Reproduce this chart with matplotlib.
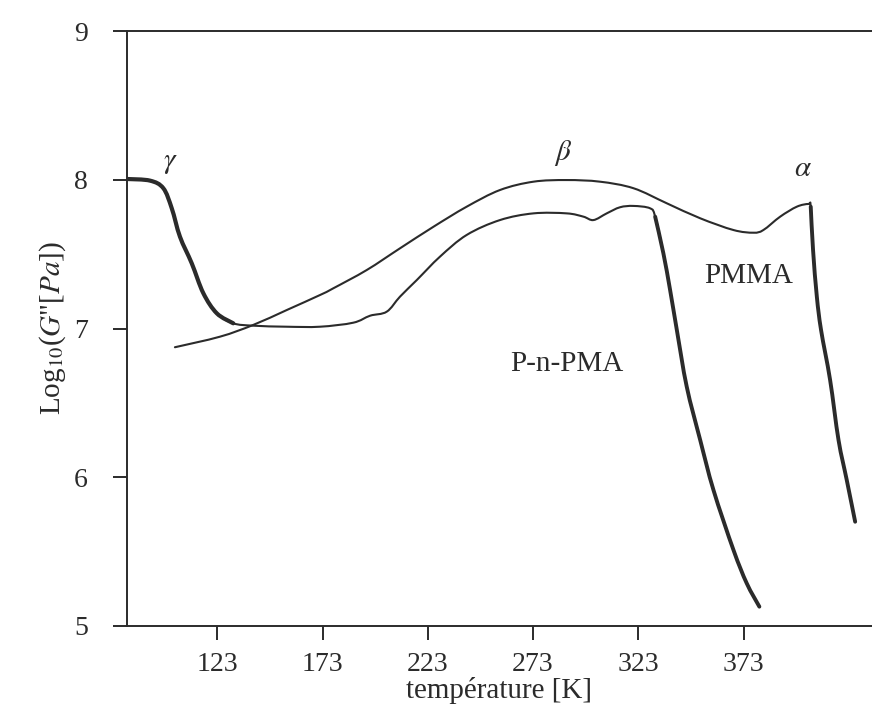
import numpy as np
import matplotlib
matplotlib.use("Agg")
from matplotlib import pyplot as plt
from matplotlib.path import Path
from matplotlib.patches import PathPatch

plt.rcParams['font.family'] = ['Liberation Serif', 'DejaVu Serif']
plt.rcParams['mathtext.fontset'] = 'stix'

# P-n-PMA : temperature [K], log10 G''
T_pnpma = [80.3, 91.1, 97.4, 101.4, 105.3, 110.9, 116.4, 122.8, 130.6, 140.1, 156.0,
           171.8, 187.6, 195.6, 203.5, 209.8, 217.8, 228.8, 241.5, 257.3, 273.2, 289.0,
           296.9, 301.7, 308.0, 314.3, 320.7, 328.6, 331.0, 334.9, 338.1, 341.3, 346.0,
           352.4, 358.7, 368.2, 374.5, 380.5]
G_pnpma = [8.005, 7.994, 7.943, 7.808, 7.617, 7.438, 7.237, 7.102, 7.035, 7.019, 7.012,
           7.012, 7.039, 7.086, 7.113, 7.214, 7.326, 7.483, 7.629, 7.729, 7.774, 7.774,
           7.752, 7.729, 7.774, 7.815, 7.824, 7.808, 7.752, 7.506, 7.259, 6.990, 6.609,
           6.250, 5.914, 5.511, 5.287, 5.130]

# PMMA
T_pmma = [102.9, 124.3, 140.1, 156.0, 171.8, 178.1, 194.0, 209.8, 225.7, 241.5, 257.3,
          273.2, 289.0, 304.8, 320.7, 336.5, 352.4, 368.2, 377.7, 382.4, 390.4, 398.3,
          403.8, 404.9, 406.0, 407.8, 409.8, 414.1, 418.1, 422.0, 426.0]
G_pmma = [6.874, 6.945, 7.024, 7.124, 7.225, 7.270, 7.393, 7.539, 7.684, 7.819, 7.931,
          7.987, 7.998, 7.987, 7.943, 7.842, 7.741, 7.662, 7.644, 7.662, 7.752, 7.819,
          7.837, 7.819, 7.528, 7.214, 6.990, 6.654, 6.250, 5.982, 5.701]

xticks = [123, 173, 223, 273, 323, 373]
yticks = [5, 6, 7, 8, 9]

ink = '#2b2b2b'


def smooth_curve(ax, x, y, lw):
    """Draw a curve through the points as cubic Bezier pieces (Catmull-Rom tangents)."""
    pts = ax.transData.transform(np.column_stack([x, y]))
    verts = [pts[0]]
    codes = [Path.MOVETO]
    n = len(pts)
    for i in range(n - 1):
        p0 = pts[max(i - 1, 0)]
        p1 = pts[i]
        p2 = pts[i + 1]
        p3 = pts[min(i + 2, n - 1)]
        c1 = p1 + (p2 - p0) / 6.0
        c2 = p2 - (p3 - p1) / 6.0
        verts += [c1, c2, p2]
        codes += [Path.CURVE4] * 3
    verts = ax.transData.inverted().transform(np.array(verts))
    patch = PathPatch(Path(verts, codes), facecolor='none', edgecolor=ink, lw=lw,
                      capstyle='round', joinstyle='round')
    ax.add_patch(patch)


fig = plt.figure(figsize=(8.72, 7.16), dpi=100)
ax = fig.add_axes([0.1453, 0.1257, 0.8547, 0.8310])
ax.set_xlim(80, 434)
ax.set_ylim(5, 9)

# thin base lines
smooth_curve(ax, T_pnpma, G_pnpma, 1.5)
smooth_curve(ax, T_pmma, G_pmma, 1.5)
# heavier strokes on the steep parts
smooth_curve(ax, T_pnpma[:9], G_pnpma[:9], 3.0)
smooth_curve(ax, T_pnpma[28:], G_pnpma[28:], 2.8)
smooth_curve(ax, T_pmma[23:], G_pmma[23:], 2.8)

ax.text(100.6, 8.11, r'$\gamma$', fontsize=21, ha='center', va='center', color=ink)
ax.text(287.3, 8.18, r'$\beta$', fontsize=21, ha='center', va='center', color=ink)
ax.text(401.3, 8.07, r'$\alpha$', fontsize=21, ha='center', va='center', color=ink)
ax.text(375.2, 7.35, 'PMMA', fontsize=21, ha='center', va='center', color=ink)
ax.text(289.2, 6.76, 'P-n-PMA', fontsize=21, ha='center', va='center', color=ink)

ax.set_xticks(xticks)
ax.set_yticks(yticks)
ax.tick_params(axis='both', direction='out', length=10, width=1.4, colors=ink,
               labelsize=20)
ax.tick_params(axis='y', pad=18)
ax.tick_params(axis='x', pad=9)

for side in ['left', 'bottom', 'top']:
    ax.spines[side].set_linewidth(1.4)
    ax.spines[side].set_color(ink)
ax.spines['right'].set_visible(False)

ax.set_xlabel('température [K]', fontsize=21, labelpad=0, color=ink)
ax.set_ylabel(r'Log$_{10}$($G$"[$Pa$])', fontsize=21, labelpad=4, color=ink)

fig.savefig('out.png', dpi=100)
